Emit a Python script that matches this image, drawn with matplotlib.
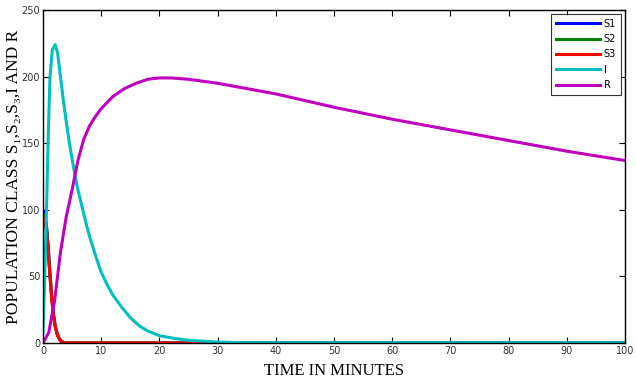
import numpy as np
import matplotlib
matplotlib.use("Agg")
import matplotlib.pyplot as plt

# values
t_s = [0, 0.3, 0.6, 0.9, 1.2, 1.5, 1.8, 2.1, 2.5, 3.0, 3.5, 4.0, 100]
s1 = [100, 97, 88, 72, 52, 35, 22, 13, 6, 2, 0.5, 0, 0]
s2 = [97, 94, 86, 70, 51, 34, 21, 12.5, 6, 2, 0.5, 0, 0]
s3 = [94, 92, 84, 68, 50, 33, 20, 12, 5.5, 1.5, 0.3, 0, 0]

t_i = [0, 0.3, 0.6, 0.9, 1.2, 1.6, 2.1, 2.5, 3, 3.5, 4, 4.5, 5, 5.5, 6, 6.5,
       7, 7.5, 8, 9, 10, 11, 12, 13.5, 15, 16.5, 18, 20, 22.5, 25, 30, 35, 100]
inf = [8, 50, 100, 155, 200, 220, 224, 218, 200, 182, 166, 151, 138, 126,
       115, 106, 97, 88, 80, 66, 53, 44, 36, 27, 19, 13, 9, 5.5, 3.5, 2, 0.7,
       0.2, 0.2]

t_r = [0, 1, 2, 3, 4, 5, 5.5, 6, 7, 8, 9, 10, 12, 14, 16, 18, 20, 22, 25, 30,
       40, 50, 60, 70, 80, 90, 100]
rec = [0, 8, 32, 68, 95, 115, 126, 137, 153, 163, 170, 176, 185, 191, 195,
       198, 199, 199, 198, 195, 187, 177, 168, 160, 152, 144, 137]

fig = plt.figure(figsize=(6.36, 3.83), dpi=100)
ax = fig.add_axes([43 / 636, 1 - 343 / 383, 582 / 636, 333 / 383])

ax.plot(t_s, s1, color=(0, 0, 1), lw=2.2, label="S1")
ax.plot(t_s, s2, color=(0, 0.5, 0), lw=2.2, label="S2")
ax.plot(t_s, s3, color=(1, 0, 0), lw=2.2, label="S3")
ax.plot(t_i, inf, color=(0, 0.75, 0.75), lw=2.2, label="I")
ax.plot(t_r, rec, color=(0.75, 0, 0.75), lw=2.2, label="R")

ax.set_xlim(0, 100)
ax.set_ylim(0, 250)
ax.set_xticks(np.arange(0, 101, 10))
ax.set_yticks(np.arange(0, 251, 50))

tick_font = ["Liberation Sans Narrow", "DejaVu Sans"]
ax.tick_params(direction="in", top=True, right=True, length=4, width=0.8,
               labelsize=7, colors="black", labelcolor="#333333", pad=2)
for lab in ax.get_xticklabels() + ax.get_yticklabels():
    lab.set_family(tick_font)
for sp in ax.spines.values():
    sp.set_linewidth(1.0)

serif = ["Liberation Serif", "DejaVu Serif"]
ax.set_xlabel("TIME IN MINUTES", family=serif, fontsize=12, labelpad=5)
ax.set_ylabel("POPULATION CLASS S\u2081,S\u2082,S\u2083,I AND R", family=serif,
              fontsize=12.5)
ax.yaxis.set_label_coords(-21 / 582, 0.5)

leg = ax.legend(loc="upper right", frameon=True, fancybox=False,
                handlelength=4.5, handletextpad=0.4, borderpad=0.5,
                labelspacing=0.55, borderaxespad=0.4,
                prop={"family": tick_font, "size": 7})
leg.get_frame().set_edgecolor("black")
leg.get_frame().set_linewidth(0.8)

fig.savefig("out.png", dpi=100)
